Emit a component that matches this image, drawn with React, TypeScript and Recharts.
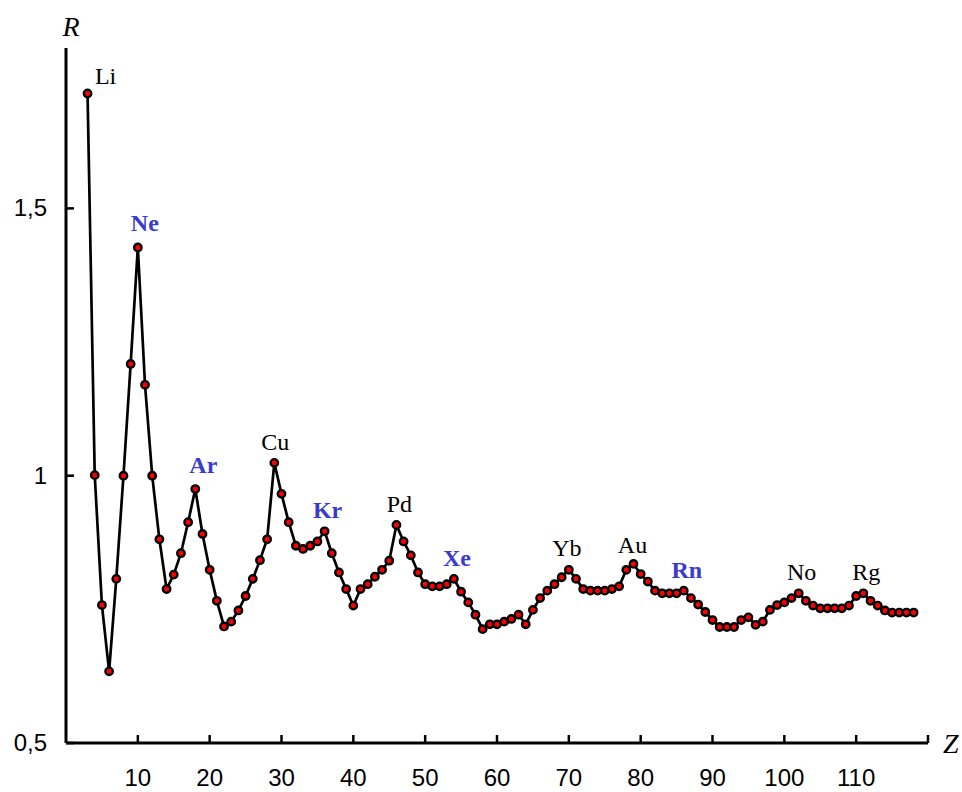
import { LineChart, Line, XAxis, YAxis, LabelList } from "recharts";

// atomic number Z, from Li (3) to 118
const zValues: number[] = Array.from({ length: 116 }, (_, i) => i + 3);

// R, one per Z above
const rValues: number[] = [
  1.715, 1.001, 0.758, 0.634, 0.807, 1.0, 1.209, 1.427, 1.17, 1.0,
  0.881, 0.788, 0.815, 0.855, 0.913, 0.975, 0.891, 0.824, 0.766, 0.718,
  0.727, 0.748, 0.775, 0.807, 0.842, 0.881, 1.024, 0.966, 0.913, 0.869,
  0.863, 0.869, 0.877, 0.896, 0.855, 0.819, 0.788, 0.757, 0.788, 0.797,
  0.811, 0.824, 0.841, 0.908, 0.877, 0.851, 0.819, 0.797, 0.793, 0.793,
  0.797, 0.807, 0.783, 0.763, 0.74, 0.713, 0.722, 0.722, 0.727, 0.732,
  0.74, 0.722, 0.749, 0.771, 0.785, 0.797, 0.81, 0.824, 0.807, 0.788,
  0.785, 0.785, 0.785, 0.788, 0.793, 0.824, 0.835, 0.816, 0.802, 0.785,
  0.78, 0.78, 0.78, 0.785, 0.771, 0.759, 0.745, 0.73, 0.717, 0.717,
  0.717, 0.73, 0.735, 0.721, 0.727, 0.749, 0.758, 0.763, 0.771, 0.78,
  0.766, 0.757, 0.752, 0.752, 0.752, 0.752, 0.757, 0.775, 0.78, 0.766,
  0.757, 0.748, 0.744, 0.744, 0.744, 0.744,
];

const labelZ: number[] = [3, 10, 18, 29, 36, 46, 54, 70, 79, 86, 102, 111];
const labelText: string[] = ["Li", "Ne", "Ar", "Cu", "Kr", "Pd", "Xe", "Yb", "Au", "Rn", "No", "Rg"];
const nobleGases: string[] = ["Ne", "Ar", "Kr", "Xe", "Rn"];

const xTicks: number[] = [10, 20, 30, 40, 50, 60, 70, 80, 90, 100, 110, 120];
const xTickLabels: string[] = ["10", "20", "30", "40", "50", "60", "70", "80", "90", "100", "110", ""];
const yTicks: number[] = [0.5, 1, 1.5];
const yTickLabels: string[] = ["0,5", "1", "1,5"];

// label nudges (px) relative to the point
const labelOffset: Record<string, [number, number]> = {
  Li: [18, -9],
  Ne: [7, -16],
  Ar: [8, -16],
  Cu: [1, -13],
  Yb: [-2, -14],
  Au: [-1, -11],
};

const data = zValues.map((z, i) => {
  const k = labelZ.indexOf(z);
  return { z, r: rValues[i], label: k >= 0 ? labelText[k] : "" };
});

const sans = "'Liberation Sans', Arial, sans-serif";
const serif = "'Liberation Serif', 'Times New Roman', serif";

function XTick(props: any) {
  const { x, y, payload } = props;
  const i = xTicks.indexOf(payload.value);
  return (
    <g>
      <line x1={x} y1={y} x2={x} y2={y - 8} stroke="#000" strokeWidth={2.5} />
      <text x={x} y={y + 43} textAnchor="middle" fontFamily={sans} fontSize={24} fill="#000">
        {i >= 0 ? xTickLabels[i] : ""}
      </text>
    </g>
  );
}

function YTick(props: any) {
  const { x, y, payload } = props;
  const i = yTicks.indexOf(payload.value);
  return (
    <g>
      <line x1={x} y1={y} x2={x + 8} y2={y} stroke="#000" strokeWidth={2.5} />
      <text x={x - 19} y={y + 8} textAnchor="end" fontFamily={sans} fontSize={24} fill="#000">
        {i >= 0 ? yTickLabels[i] : ""}
      </text>
    </g>
  );
}

function ElementLabel(props: any) {
  const { x, y, value } = props;
  if (!value) return null;
  const [dx, dy] = labelOffset[value] ?? [3, -13];
  const noble = nobleGases.includes(value);
  return (
    <text
      x={x + dx}
      y={y + dy}
      textAnchor="middle"
      fontFamily={serif}
      fontSize={24}
      fontWeight={noble ? "bold" : "normal"}
      fill={noble ? "#3b3bcc" : "#000"}
    >
      {value}
    </text>
  );
}

export default function App() {
  return (
    <div style={{ position: "absolute", left: 0, top: 0, background: "#fff" }}>
      <LineChart width={962} height={792} data={data} margin={{ top: 48, right: 34, bottom: 9, left: 10 }}>
        <XAxis
          dataKey="z"
          type="number"
          domain={[0, 120]}
          ticks={xTicks}
          interval={0}
          tickSize={0}
          tickMargin={0}
          tick={<XTick />}
          height={40}
          axisLine={{ stroke: "#000", strokeWidth: 3 }}
          tickLine={false}
          label={{
            content: (p: any) => (
              <text
                x={p.viewBox.x + p.viewBox.width + 15}
                y={p.viewBox.y + 10}
                fontFamily={serif}
                fontStyle="italic"
                fontSize={28}
                fill="#000"
              >
                Z
              </text>
            ),
          }}
        />
        <YAxis
          dataKey="r"
          type="number"
          domain={[0.5, 1.8]}
          ticks={yTicks}
          interval={0}
          tickSize={0}
          tickMargin={0}
          tick={<YTick />}
          width={56}
          axisLine={{ stroke: "#000", strokeWidth: 3 }}
          tickLine={false}
          label={{
            content: (p: any) => (
              <text
                x={p.viewBox.x + p.viewBox.width + 5}
                y={p.viewBox.y - 12}
                textAnchor="middle"
                fontFamily={serif}
                fontStyle="italic"
                fontSize={28}
                fill="#000"
              >
                R
              </text>
            ),
          }}
        />
        <Line
          type="linear"
          dataKey="r"
          stroke="#000"
          strokeWidth={2.7}
          dot={{ r: 3.7, fill: "#ff0000", stroke: "#000", strokeWidth: 2.4 }}
          isAnimationActive={false}
        >
          <LabelList dataKey="label" content={<ElementLabel />} />
        </Line>
      </LineChart>
    </div>
  );
}
